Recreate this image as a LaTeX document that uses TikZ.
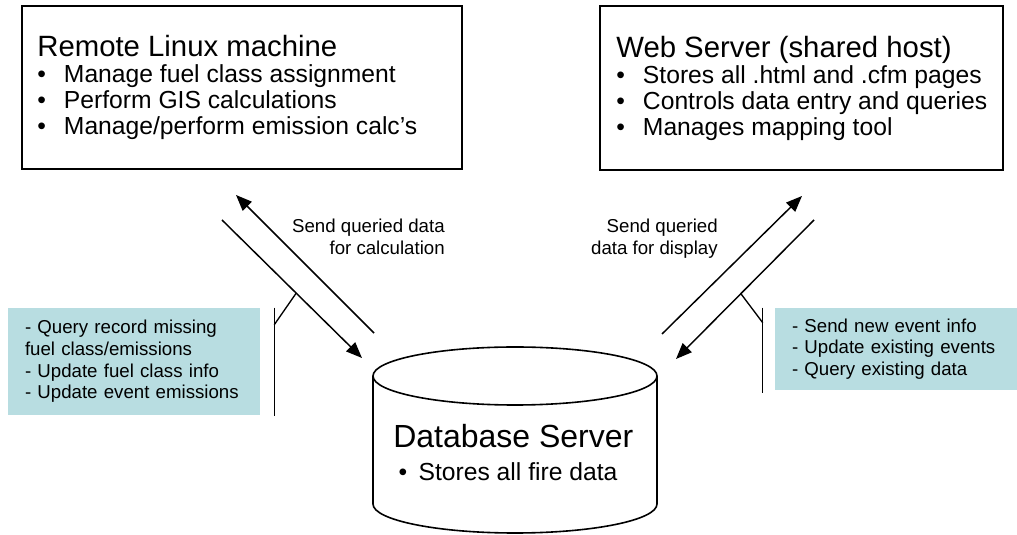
\documentclass[tikz,border=0pt]{standalone}
\usepackage{fontspec}
\setmainfont{Liberation Sans}
\usepackage{tikz}
\usetikzlibrary{arrows.meta,positioning,calc}
\definecolor{notefill}{RGB}{184,221,225}
\tikzstyle{hostbox}=[draw,line width=1.4pt,inner sep=0pt]
\tikzstyle{hosttext}=[align=left,anchor=west,inner sep=0pt,font=\fontsize{18.5}{19.5}\selectfont]
\tikzstyle{note}=[fill=notefill,align=left,inner xsep=12.75pt,inner ysep=0pt,font=\fontsize{14}{16.3}\selectfont]
\tikzstyle{flow}=[line width=1.1pt,-{Triangle[length=12pt,width=9.5pt]}]
\tikzstyle{flowlabel}=[align=right,inner sep=0pt,anchor=north east,font=\fontsize{14}{16.5}\selectfont]
\tikzstyle{tick}=[line width=1pt]
\newcommand{\hdr}[1]{{\fontsize{22}{19.5}\selectfont #1}}
\newcommand{\itm}[1]{\makebox[20pt][l]{\textbullet}#1}

\begin{document}
\begin{tikzpicture}[x=0.75pt,y=0.75pt]
\useasboundingbox (0,0) rectangle (1017,535);

\node [hostbox,minimum width=330pt,minimum height=122.25pt] (remote) at (242,447.5) {};
\node [hosttext] (remoteTxt) at ($(remote.west)+(16,0)$)
  {\hdr{Remote Linux machine}\\
   \itm{Manage fuel class assignment}\\
   \itm{Perform GIS calculations}\\
   \itm{Manage/perform emission calc's}};

\node [hostbox,minimum width=302.25pt,minimum height=123pt] (web) at (801.5,447) {};
\node [hosttext] (webTxt) at ($(web.west)+(17,0)$)
  {\hdr{Web Server (shared host)}\\
   \itm{Stores all .html and .cfm pages}\\
   \itm{Controls data entry and queries}\\
   \itm{Manages mapping tool}};

\draw [line width=1.2pt] (373,159) -- (373,31)
  arc [start angle=180,end angle=360,x radius=142,y radius=29] -- (657,159);
\draw [line width=1.2pt] (515,159) ellipse [x radius=142,y radius=29];
\node [align=left,anchor=north west,inner sep=0pt,font=\fontsize{18.5}{24.75}\selectfont] (db) at (393,111.4)
  {{\fontsize{24}{24.75}\selectfont Database Server}\\
   \hspace*{4pt}\makebox[15pt][l]{\textbullet}Stores all fire data};

\coordinate (rUpHead) at (236,340);
\coordinate (rUpTail) at (374,202);
\coordinate (rDownTail) at (222,315);
\coordinate (rDownHead) at (362,177);
\coordinate (wUpHead) at (802,339);
\coordinate (wUpTail) at (662,201);
\coordinate (wDownTail) at (814,315);
\coordinate (wDownHead) at (676,176);

\draw [flow] (rUpTail) -- (rUpHead);
\draw [flow] (rDownTail) -- (rDownHead) coordinate[pos=0.53] (rTick);
\draw [flow] (wUpTail) -- (wUpHead);
\draw [flow] (wDownTail) -- (wDownHead) coordinate[pos=0.53] (wTick);

\node [flowlabel] (calcLbl) at (445,316.6) {Send queried data\\for calculation};
\node [flowlabel] (dispLbl) at (718,316.6) {Send queried\\data for display};

\node [note,text width=163.5pt,minimum height=80.25pt] (lnote) at (134,173.5)
  {- Query record missing\\fuel class/emissions\\- Update fuel class info\\- Update event emissions};
\node [note,text width=156pt,minimum height=61.5pt] (rnote) at (896,186)
  {- Send new event info\\- Update existing events\\- Query existing data};

\draw [tick] ($(lnote.north east)+(14,0)$) -- ($(lnote.south east)+(14,-1)$);
\draw [tick] (rTick) -- ($(lnote.north east)+(14,-17)$);
\draw [tick] ($(rnote.north west)+(-12,0)$) -- ($(rnote.south west)+(-12,-3)$);
\draw [tick] (wTick) -- ($(rnote.north west)+(-12,-15)$);
\end{tikzpicture}
\end{document}
